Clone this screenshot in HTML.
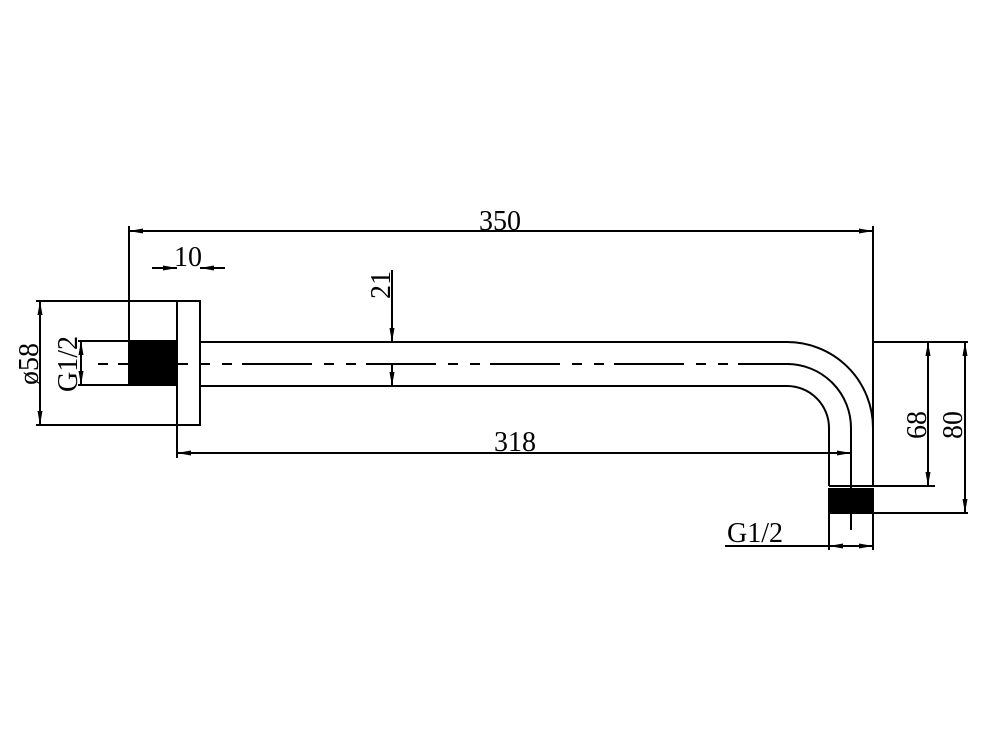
<!DOCTYPE html><html><head><style>body{margin:0;background:#fff}svg{display:block}text{font-family:"Liberation Serif",serif;font-size:28px;fill:#000}</style></head><body>
<svg width="984" height="750" viewBox="0 0 984 750" xmlns="http://www.w3.org/2000/svg">
<defs><marker id="a" viewBox="0 0 14 5" refX="14" refY="2.5" markerWidth="14" markerHeight="5" orient="auto-start-reverse" markerUnits="userSpaceOnUse"><path d="M0,0L14,2.5L0,5z"/></marker></defs>
<g stroke="#000" stroke-width="2" fill="none">
<line x1="129" y1="226" x2="129" y2="386"/>
<path d="M36,301H200V425H36"/>
<line x1="177" y1="301" x2="177" y2="458"/>
<rect x="129" y="341" width="48" height="44" fill="#000"/>
<path d="M78,341H129M78,385H129"/>
<path d="M200,342H787A86,86 0 0 1 873,428V486"/>
<path d="M200,386H787A42,42 0 0 1 829,428V486"/>
<path d="M98,364H790" stroke-dasharray="10,10,70,12,10,12" />
<path d="M787,364A64,64 0 0 1 851,428V530"/>
<rect x="829" y="489" width="44" height="24" fill="#000"/>
<path d="M829,513V550M873,513V550M829,486H873"/>
<line x1="129" y1="231" x2="873" y2="231" marker-start="url(#a)" marker-end="url(#a)"/>
<line x1="873" y1="226" x2="873" y2="430"/>
<line x1="177" y1="453" x2="851" y2="453" marker-start="url(#a)" marker-end="url(#a)"/>
<line x1="152" y1="268" x2="177" y2="268" marker-end="url(#a)"/>
<line x1="225" y1="268" x2="200" y2="268" marker-end="url(#a)"/>
<line x1="392" y1="270" x2="392" y2="342" marker-end="url(#a)"/>
<line x1="392" y1="364" x2="392" y2="386" marker-end="url(#a)"/>
<line x1="40" y1="301" x2="40" y2="425" marker-start="url(#a)" marker-end="url(#a)"/>
<line x1="81" y1="341" x2="81" y2="385" marker-start="url(#a)" marker-end="url(#a)"/>
<path d="M873,342H968M873,486H935M873,513H968"/>
<line x1="928" y1="342" x2="928" y2="486" marker-start="url(#a)" marker-end="url(#a)"/>
<line x1="965" y1="342" x2="965" y2="513" marker-start="url(#a)" marker-end="url(#a)"/>
<line x1="725" y1="546" x2="829" y2="546"/>
<line x1="829" y1="546" x2="873" y2="546" marker-start="url(#a)" marker-end="url(#a)"/>
</g>
<text x="500" y="230" text-anchor="middle">350</text>
<text x="188" y="266" text-anchor="middle">10</text>
<text x="515" y="451" text-anchor="middle">318</text>
<text x="727" y="542">G1/2</text>
<text transform="translate(390,285) rotate(-90)" text-anchor="middle">21</text>
<text transform="translate(38,364) rotate(-90)" text-anchor="middle">ø58</text>
<text transform="translate(77,364) rotate(-90)" text-anchor="middle">G1/2</text>
<text transform="translate(926,425) rotate(-90)" text-anchor="middle">68</text>
<text transform="translate(962,425) rotate(-90)" text-anchor="middle">80</text>
</svg></body></html>
